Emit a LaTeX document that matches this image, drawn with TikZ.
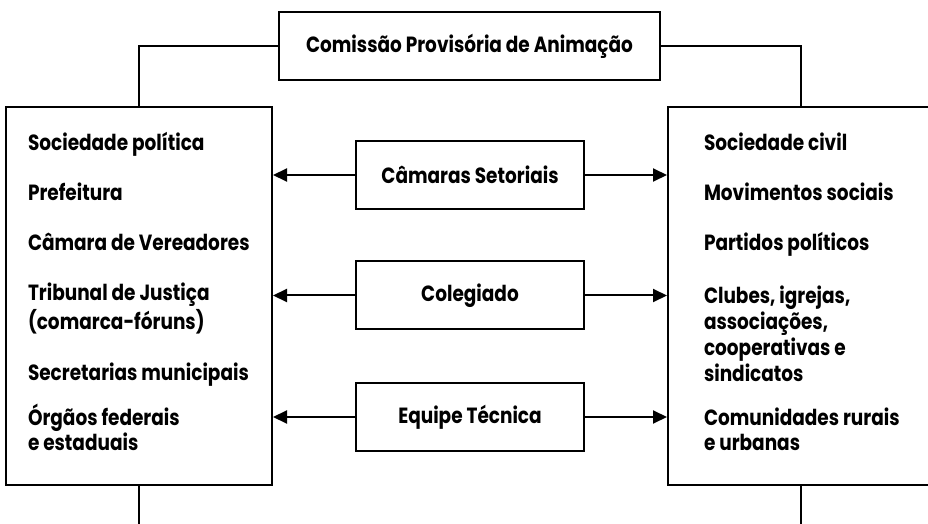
\documentclass[tikz,border=0pt]{standalone}
\usepackage{fontspec}
\setmainfont{Poppins}[FakeStretch=0.84]
\usetikzlibrary{arrows.meta, positioning}
\tikzstyle{every node}=[font=\bfseries\fontsize{11}{13}\selectfont]
\tikzstyle{box}=[draw, line width=1pt, inner sep=0pt]
\tikzstyle{midbox}=[box, minimum width=114pt, minimum height=34pt]
\tikzstyle{sidebox}=[box, minimum width=133pt, minimum height=189pt]
\tikzstyle{item}=[anchor=base west, align=left, inner sep=0pt]
\tikzstyle{link}=[-{Triangle[length=7pt, width=6.5pt]}, line width=1pt]

\begin{document}
\begin{tikzpicture}[x=0.5pt, y=-0.5pt, line width=1pt]
    \useasboundingbox (0,0) rectangle (928,524);
    \node   [box, minimum width=190.5pt, minimum height=34pt] (CPA) at (469.5,46) {Comissão Provisória de Animação};
    \node   [sidebox]   (SP) at (139,296) {};
    \node   [sidebox]   (SC) at (801,296) {};
    \node   [midbox]    (CS) at (470,175) {Câmaras Setoriais};
    \node   [midbox]    (COL) at (470,295.5) {Colegiado};
    \node   [midbox]    (ET) at (470,417) {Equipe Técnica};
    % sociedade politica (base = last line)
    \node   [item]  (SP1) at (27,151) {Sociedade política};
    \node   [item]  (SP2) at (27,201) {Prefeitura};
    \node   [item]  (SP3) at (27,251) {Câmara de Vereadores};
    \node   [item]  (SP4) at (27,329) {Tribunal de Justiça\\(comarca-fóruns)};
    \node   [item]  (SP5) at (27,380) {Secretarias municipais};
    \node   [item]  (SP6) at (27,451) {Órgãos federais\\e estaduais};
    % sociedade civil
    \node   [item]  (SC1) at (703,151) {Sociedade civil};
    \node   [item]  (SC2) at (703,201) {Movimentos sociais};
    \node   [item]  (SC3) at (703,251) {Partidos políticos};
    \node   [item]  (SC4) at (703,381) {Clubes, igrejas,\\associações,\\cooperativas e\\sindicatos};
    \node   [item]  (SC5) at (703,451) {Comunidades rurais\\e urbanas};
    \coordinate (SPend) at (139,530);
    \coordinate (SCend) at (801,530);
    \draw (CPA.west) -| (SP.north);
    \draw (CPA.east) -| (SC.north);
    \draw (SP.south) -- (SPend);
    \draw (SC.south) -- (SCend);
    \draw[link] (CS.west) -- (CS.west -| SP.east);
    \draw[link] (CS.east) -- (CS.east -| SC.west);
    \draw[link] (COL.west) -- (COL.west -| SP.east);
    \draw[link] (COL.east) -- (COL.east -| SC.west);
    \draw[link] (ET.west) -- (ET.west -| SP.east);
    \draw[link] (ET.east) -- (ET.east -| SC.west);
\end{tikzpicture}
\end{document}
